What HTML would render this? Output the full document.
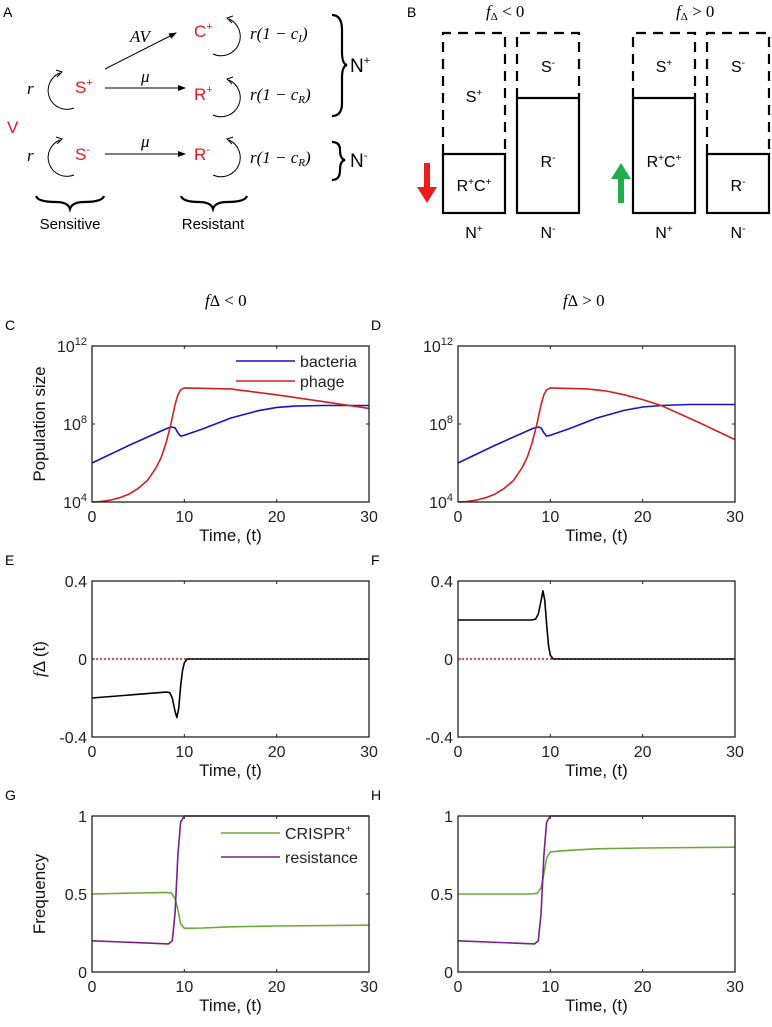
<!DOCTYPE html>
<html><head><meta charset="utf-8"><style>
html,body{margin:0;padding:0;background:#fff;}
svg{display:block;font-family:"Liberation Sans",sans-serif;}
.serif{font-family:"Liberation Serif",serif;font-style:italic;}
</style></head><body>
<svg id="fig" width="772" height="1027" viewBox="0 0 772 1027" xmlns="http://www.w3.org/2000/svg">
<defs>
<marker id="ah" markerWidth="8" markerHeight="8" refX="7" refY="4" orient="auto"><path d="M0,1 L8,4 L0,7 Z" fill="#000"/></marker>
</defs>
<!-- Panel A -->
<g font-size="17">
<text x="3" y="17" font-size="14">A</text>
<text x="194" y="37" fill="#e8191e">C<tspan font-size="11" dy="-7">+</tspan></text>
<text x="75" y="93" fill="#e8191e">S<tspan font-size="11" dy="-7">+</tspan></text>
<text x="194" y="100" fill="#e8191e">R<tspan font-size="11" dy="-7">+</tspan></text>
<text x="75" y="160" fill="#e8191e">S<tspan font-size="11" dy="-7">-</tspan></text>
<text x="194" y="160" fill="#e8191e">R<tspan font-size="11" dy="-7">-</tspan></text>
<text x="7" y="133" fill="#e8191e">V</text>
<line x1="105" y1="69" x2="176" y2="33" stroke="#000" marker-end="url(#ah)"/>
<line x1="105" y1="88" x2="185" y2="88" stroke="#000" marker-end="url(#ah)"/>
<line x1="105" y1="154" x2="185" y2="154" stroke="#000" marker-end="url(#ah)"/>
<text x="130" y="42" class="serif">AV</text>
<text x="141" y="82" class="serif">μ</text>
<text x="141" y="147" class="serif">μ</text>
<g fill="none" stroke="#000" stroke-width="1">
<path d="M60,73 A15,15 0 1 0 74,108" /><path d="M56,70 L62,72 L57,77" />
<path d="M60,140 A15,15 0 1 0 74,175" /><path d="M56,137 L62,139 L57,144" />
<path d="M229,19 A15,15 0 1 1 213,54" /><path d="M233,16 L227,18 L232,23" />
<path d="M229,80 A15,15 0 1 1 213,115" /><path d="M233,77 L227,79 L232,84" />
<path d="M229,140 A15,15 0 1 1 213,175" /><path d="M233,137 L227,139 L232,144" />
</g>
<text x="27" y="94" class="serif">r</text>
<text x="27" y="161" class="serif">r</text>
<text x="250" y="39" class="serif">r(1 − c<tspan font-size="11" dy="3">I</tspan><tspan dy="-3">)</tspan></text>
<text x="250" y="100" class="serif">r(1 − c<tspan font-size="11" dy="3">R</tspan><tspan dy="-3">)</tspan></text>
<text x="250" y="163" class="serif">r(1 − c<tspan font-size="11" dy="3">R</tspan><tspan dy="-3">)</tspan></text>
<path d="M332,15 Q342,15 342,30 L342,52 Q342,64 347,65 Q342,66 342,78 L342,103 Q342,116 332,116" fill="none" stroke="#000" stroke-width="2.2"/>
<text x="350" y="72" font-size="19">N<tspan font-size="11" dy="-8">+</tspan></text>
<path d="M332,142 Q340,142 340,150 Q340,159 345,160 Q340,161 340,170 Q340,180 332,180" fill="none" stroke="#000" stroke-width="2.2"/>
<text x="350" y="167" font-size="19">N<tspan font-size="11" dy="-8">-</tspan></text>
<path d="M36,196 Q38,202 56,202 Q68,202 70,209 Q72,202 84,202 Q102,202 104,196" fill="none" stroke="#000" stroke-width="2.2"/>
<path d="M181,196 Q183,202 199,202 Q211,202 213,209 Q215,202 227,202 Q245,202 247,196" fill="none" stroke="#000" stroke-width="2.2"/>
<text x="70" y="229" font-size="15" text-anchor="middle">Sensitive</text>
<text x="213" y="229" font-size="15" text-anchor="middle">Resistant</text>
</g>
<!-- Panel B -->
<g font-size="16">
<text x="407" y="17" font-size="14">B</text>
<text x="486" y="17" class="serif" font-size="17">f<tspan font-size="11" dy="3" font-style="normal">Δ</tspan><tspan dy="-3" font-style="normal"> &lt; 0</tspan></text>
<text x="676" y="17" class="serif" font-size="17">f<tspan font-size="11" dy="3" font-style="normal">Δ</tspan><tspan dy="-3" font-style="normal"> &gt; 0</tspan></text>
<g fill="none" stroke="#000" stroke-width="2.2" stroke-dasharray="10,7">
<path d="M443,154 L443,33 L505,33 L505,154"/>
<path d="M517,98 L517,33 L579,33 L579,98"/>
<path d="M633,98 L633,33 L695,33 L695,98"/>
<path d="M707,154 L707,33 L769,33 L769,154"/>
</g>
<g fill="none" stroke="#000" stroke-width="2.2">
<rect x="443" y="154" width="62" height="59"/>
<rect x="517" y="98" width="62" height="115"/>
<rect x="633" y="98" width="62" height="115"/>
<rect x="707" y="154" width="62" height="59"/>
</g>
<path d="M424,163 L430,163 L430,187 L437,187 L427,203 L417,187 L424,187 Z" fill="#ee1c1c"/>
<path d="M618,203 L624,203 L624,179 L631,179 L621,163 L611,179 L618,179 Z" fill="#1fae4a"/>
<text x="474" y="102" text-anchor="middle">S<tspan font-size="10" dy="-6">+</tspan></text>
<text x="474" y="191" text-anchor="middle">R<tspan font-size="10" dy="-6">+</tspan><tspan dy="6">C</tspan><tspan font-size="10" dy="-6">+</tspan></text>
<text x="548" y="72" text-anchor="middle">S<tspan font-size="10" dy="-6">-</tspan></text>
<text x="548" y="167" text-anchor="middle">R<tspan font-size="10" dy="-6">-</tspan></text>
<text x="664" y="72" text-anchor="middle">S<tspan font-size="10" dy="-6">+</tspan></text>
<text x="664" y="167" text-anchor="middle">R<tspan font-size="10" dy="-6">+</tspan><tspan dy="6">C</tspan><tspan font-size="10" dy="-6">+</tspan></text>
<text x="738" y="72" text-anchor="middle">S<tspan font-size="10" dy="-6">-</tspan></text>
<text x="738" y="191" text-anchor="middle">R<tspan font-size="10" dy="-6">-</tspan></text>
<text x="474" y="238" text-anchor="middle">N<tspan font-size="10" dy="-6">+</tspan></text>
<text x="548" y="238" text-anchor="middle">N<tspan font-size="10" dy="-6">-</tspan></text>
<text x="664" y="238" text-anchor="middle">N<tspan font-size="10" dy="-6">+</tspan></text>
<text x="738" y="238" text-anchor="middle">N<tspan font-size="10" dy="-6">-</tspan></text>
</g>
<text x="205" y="306" class="serif" font-size="17">f<tspan font-style="normal" font-size="16">Δ</tspan><tspan font-style="normal">  &lt; 0</tspan></text>
<text x="563" y="306" class="serif" font-size="17">f<tspan font-style="normal" font-size="16">Δ</tspan><tspan font-style="normal">  &gt; 0</tspan></text>
<g id="charts"></g>
</svg>
<script>
// shared time axis
const xTicks = [0, 10, 20, 30];
// Panel C/D population (log10)
const tBac = [0, 4, 8, 8.6, 9, 9.3, 9.6, 10, 12, 15, 18, 20, 22, 25, 30];
const bacteriaC = [6, 6.9, 7.75, 7.85, 7.8, 7.55, 7.38, 7.42, 7.75, 8.3, 8.68, 8.85, 8.92, 8.95, 8.95];
const bacteriaD = [6, 6.9, 7.75, 7.85, 7.8, 7.55, 7.38, 7.42, 7.75, 8.3, 8.7, 8.87, 8.95, 9.0, 9.0];
const tPhage = [0, 1, 2, 3, 4, 5, 6, 7, 7.5, 8, 8.5, 9, 9.3, 9.6, 10, 15, 20, 25, 30];
const phageC = [4, 4.03, 4.1, 4.22, 4.4, 4.7, 5.1, 5.8, 6.3, 7, 7.9, 9.0, 9.5, 9.75, 9.85, 9.8, 9.5, 9.15, 8.8];
const tPhageD = [0, 1, 2, 3, 4, 5, 6, 7, 7.5, 8, 8.5, 9, 9.3, 9.6, 10, 14, 16, 18, 20, 22, 26, 30];
const phageD = [4, 4.03, 4.1, 4.22, 4.4, 4.7, 5.1, 5.8, 6.3, 7, 7.9, 9.0, 9.5, 9.75, 9.85, 9.8, 9.7, 9.5, 9.25, 8.95, 8.1, 7.2];
const popTicks = [4, 8, 12];
// Panel E/F fΔ
const tF = [0, 8, 8.4, 8.7, 9, 9.2, 9.4, 9.6, 9.8, 10, 10.3, 30];
const fDeltaE = [-0.2, -0.17, -0.172, -0.2, -0.27, -0.3, -0.25, -0.14, -0.06, -0.02, 0, 0];
const fDeltaF = [0.2, 0.2, 0.205, 0.23, 0.3, 0.35, 0.3, 0.18, 0.07, 0.02, 0, 0];
const fTicks = [-0.4, 0, 0.4];
// Panel G/H frequency
const tCr = [0, 8, 8.6, 9, 9.3, 9.6, 10, 12, 15, 20, 30];
const crisprG = [0.5, 0.51, 0.505, 0.47, 0.4, 0.31, 0.28, 0.282, 0.29, 0.295, 0.3];
const crisprH = [0.5, 0.5, 0.505, 0.54, 0.63, 0.73, 0.77, 0.78, 0.79, 0.795, 0.8];
const tRes = [0, 8.3, 8.7, 9, 9.3, 9.6, 10, 30];
const resistG = [0.2, 0.18, 0.2, 0.38, 0.75, 0.96, 1, 1];
const resistH = [0.2, 0.18, 0.2, 0.38, 0.75, 0.96, 1, 1];
const freqTicks = [0, 0.5, 1];

const NS = 'http://www.w3.org/2000/svg';
const root = document.getElementById('charts');
function mk(tag, attrs, parent) {
  const e = document.createElementNS(NS, tag);
  for (const k in attrs) e.setAttribute(k, attrs[k]);
  parent.appendChild(e);
  return e;
}
function panel(opt) {
  const g = mk('g', {}, root);
  
  
  const L = opt.x0, R = opt.x0 + 277, T = opt.y0, B = opt.y0 + 156;
  const sx = v => L + (v - 0) / 30 * (R - L);
  const sy = v => B - (v - opt.ymin) / (opt.ymax - opt.ymin) * (B - T);
  const lab = mk('text', {x: opt.x0 - 87, y: T - 16, 'font-size': 14}, g);
  lab.textContent = opt.letter;
  
  
  xTicks.forEach(v => {
    mk('line', {x1: sx(v), x2: sx(v), y1: B, y2: B - 3, stroke: '#222'}, g);
    mk('line', {x1: sx(v), x2: sx(v), y1: T, y2: T + 3, stroke: '#222'}, g);
    const t = mk('text', {x: sx(v), y: B + 20, 'text-anchor': 'middle', 'font-size': 16, fill: '#222'}, g);
    t.textContent = v;
    
    
  });
  opt.yTicks.forEach(v => {
    mk('line', {x1: L, x2: L + 3, y1: sy(v), y2: sy(v), stroke: '#222'}, g);
    mk('line', {x1: R, x2: R - 3, y1: sy(v), y2: sy(v), stroke: '#222'}, g);
    const t = mk('text', {x: L - 5, y: sy(v) + 6, 'text-anchor': 'end', 'font-size': 16, fill: '#222'}, g);
    if (opt.log) { t.textContent = '10'; const s = mk('tspan', {dy: -7, 'font-size': 11}, t); s.textContent = v; }
    else t.textContent = v;
    
    
  });
  const xl = mk('text', {x: (L + R) / 2, y: B + 39, 'text-anchor': 'middle', 'font-size': 17, fill: '#111'}, g);
  xl.textContent = 'Time, (t)';
  
  
  if (opt.ylabel) {
    const yl = mk('text', {x: 0, y: 0, 'text-anchor': 'middle', 'font-size': 17, fill: '#111', transform: `translate(${L - 47},${(T + B) / 2}) rotate(-90)`}, g);
    if (opt.ylabel === 'f') {
      const a = mk('tspan', {'font-family': 'Liberation Serif', 'font-style': 'italic'}, yl); a.textContent = 'f';
      const b = mk('tspan', {}, yl); b.textContent = 'Δ  (t)';
    } else yl.textContent = opt.ylabel;
    
    
  }
  if (opt.zeroLine) {
    const z = mk('line', {x1: L, x2: R, y1: sy(0), y2: sy(0), stroke: '#d11', 'stroke-width': 1.6, 'stroke-dasharray': '2,2'}, g);
    
    
  }
  opt.series.forEach(s => {
    const d = s.t.map((t, i) => (i ? 'L' : 'M') + sx(t).toFixed(1) + ',' + sy(s.v[i]).toFixed(1)).join(' ');
    const p = mk('path', {d: d, fill: 'none', stroke: s.color, 'stroke-width': 1.6, 'stroke-linejoin': 'round'}, g);
    
    
  });
  mk('rect', {x: L, y: T, width: R - L, height: B - T, fill: 'none', stroke: '#222', 'stroke-width': 1.3}, g);
  if (opt.legend) {
    opt.legend.forEach((e, i) => {
      const y = opt.legY + i * opt.legGap;
      const ln = mk('line', {x1: opt.legX, x2: opt.legX + 59, y1: y, y2: y, stroke: e.color, 'stroke-width': 1.6}, g);
      
      
      const t = mk('text', {x: opt.legX + 64, y: y + 6, 'font-size': 16, fill: '#222'}, g);
      t.textContent = e.label;
      if (e.sup) { const s = mk('tspan', {dy: -7, 'font-size': 10}, t); s.textContent = e.sup; }
      
      
    });
  }
}
const blue = '#1515c8', red = '#d42020', green = '#6aaa35', purple = '#7a1f8e';
panel({name: 'panel-c-population', letter: 'C', x0: 92, y0: 346, ymin: 4, ymax: 12, log: true, yTicks: popTicks, ylabel: 'Population size',
  series: [{name: 'bacteria', t: tBac, v: bacteriaC, color: blue}, {name: 'phage', t: tPhage, v: phageC, color: red}],
  legend: [{label: 'bacteria', color: blue}, {label: 'phage', color: red}], legX: 236, legY: 361, legGap: 20});
panel({name: 'panel-d-population', letter: 'D', x0: 458, y0: 346, ymin: 4, ymax: 12, log: true, yTicks: popTicks,
  series: [{name: 'bacteria', t: tBac, v: bacteriaD, color: blue}, {name: 'phage', t: tPhageD, v: phageD, color: red}]});
panel({name: 'panel-e-fdelta', letter: 'E', x0: 92, y0: 581, ymin: -0.4, ymax: 0.4, yTicks: fTicks, ylabel: 'f', zeroLine: true,
  series: [{name: 'fdelta', t: tF, v: fDeltaE, color: '#000'}]});
panel({name: 'panel-f-fdelta', letter: 'F', x0: 458, y0: 581, ymin: -0.4, ymax: 0.4, yTicks: fTicks, zeroLine: true,
  series: [{name: 'fdelta', t: tF, v: fDeltaF, color: '#000'}]});
panel({name: 'panel-g-frequency', letter: 'G', x0: 92, y0: 816, ymin: 0, ymax: 1, yTicks: freqTicks, ylabel: 'Frequency',
  series: [{name: 'crispr', t: tCr, v: crisprG, color: green}, {name: 'resistance', t: tRes, v: resistG, color: purple}],
  legend: [{label: 'CRISPR', sup: '+', color: green}, {label: 'resistance', color: purple}], legX: 221, legY: 833, legGap: 24});
panel({name: 'panel-h-frequency', letter: 'H', x0: 458, y0: 816, ymin: 0, ymax: 1, yTicks: freqTicks,
  series: [{name: 'crispr', t: tCr, v: crisprH, color: green}, {name: 'resistance', t: tRes, v: resistH, color: purple}]});
</script>
</body></html>
